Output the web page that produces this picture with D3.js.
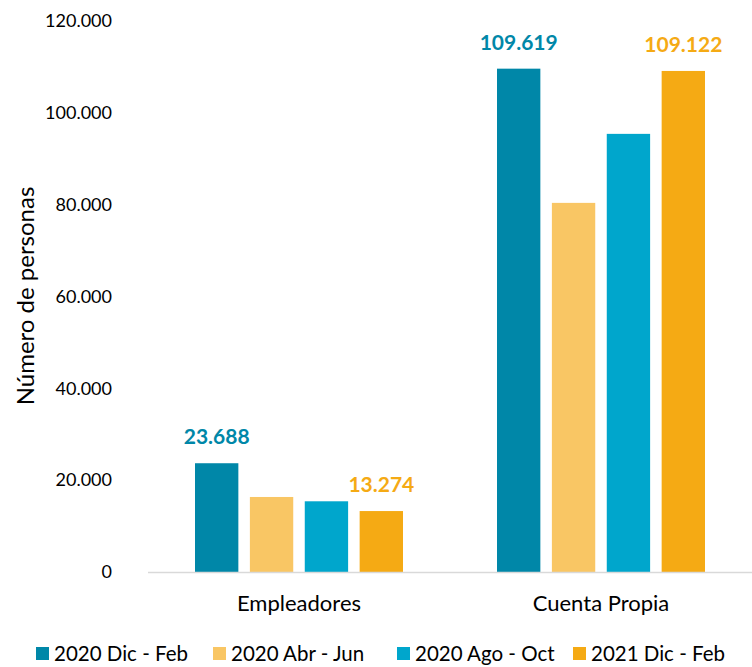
<!DOCTYPE html>
<meta charset="utf-8">
<style>
body, html { margin: 0; background: #fff; }
text { font-family: Lato, "Open Sans", sans-serif; fill: #000; }
</style>
<svg></svg>
<script src="https://d3js.org/d3.v7.min.js"></script>
<script>

var categories = ['Empleadores', 'Cuenta Propia'];
var seriesNames = ['2020 Dic - Feb', '2020 Abr - Jun', '2020 Ago - Oct', '2021 Dic - Feb'];
var colors = ['#0087a8', '#f9c664', '#00a6cc', '#f5aa14'];
var values = [
  [23688, 16340, 15400, 13274],
  [109619, 80390, 95420, 109122]
];
// which bars carry a value label
var labelled = [0, 3];
var yTicks = [0, 20000, 40000, 60000, 80000, 100000, 120000];

var W = 752, H = 667;
var margin = {top: 21, right: 0, bottom: 95, left: 148};

var svg = d3.select('svg').attr('width', W).attr('height', H);

var x0 = d3.scaleBand().domain(categories)
  .range([margin.left, W - margin.right])
  .paddingInner(0).paddingOuter(0);

var x1 = d3.scaleBand().domain(d3.range(seriesNames.length))
  .range([47, x0.bandwidth() - 47])
  .paddingInner(0.21);

var y = d3.scaleLinear().domain([0, 120000]).range([H - margin.bottom, margin.top]);

var fmt = function (v) { return d3.format(',')(v).replace(/,/g, '.'); };

// y tick labels
svg.append('g').selectAll('text')
  .data(yTicks).enter().append('text')
  .attr('x', 112)
  .attr('y', function (d) { return y(d); })
  .attr('dy', '0.35em')
  .attr('text-anchor', 'end')
  .style('font-size', '18px')
  .text(function (d) { return fmt(d); });

// y title
svg.append('text')
  .attr('transform', 'translate(34,' + 296 + ') rotate(-90)')
  .attr('text-anchor', 'middle')
  .style('font-size', '24px')
  .text('Número de personas');

// bars
var groups = svg.append('g').selectAll('g')
  .data(categories).enter().append('g')
  .attr('transform', function (d) { return 'translate(' + x0(d) + ',0)'; });

groups.selectAll('rect')
  .data(function (d, i) { return values[i]; })
  .enter().append('rect')
  .attr('x', function (d, j) { return x1(j); })
  .attr('y', function (d) { return y(d); })
  .attr('width', x1.bandwidth())
  .attr('height', function (d) { return y(0) - y(d); })
  .attr('fill', function (d, j) { return colors[j]; });

groups.selectAll('text.lbl')
  .data(function (d, i) { return values[i].map(function (v, j) { return {v: v, j: j}; })
    .filter(function (e) { return labelled.indexOf(e.j) >= 0; }); })
  .enter().append('text')
  .attr('class', 'lbl')
  .attr('x', function (d) { return x1(d.j) + x1.bandwidth() / 2; })
  .attr('y', function (d) { return y(d.v) - 19; })
  .attr('text-anchor', 'middle')
  .style('font-size', '21px')
  .style('font-weight', 'bold')
  .style('fill', function (d) { return colors[d.j]; })
  .text(function (d) { return fmt(d.v); });

// x axis line
svg.append('line')
  .attr('x1', margin.left).attr('x2', W)
  .attr('y1', y(0) + 0.5).attr('y2', y(0) + 0.5)
  .attr('stroke', '#d9d9d9').attr('stroke-width', 1.5);

// category labels
svg.append('g').selectAll('text')
  .data(categories).enter().append('text')
  .attr('x', function (d) { return x0(d) + x0.bandwidth() / 2; })
  .attr('y', 611)
  .attr('text-anchor', 'middle')
  .style('font-size', '22px')
  .text(function (d) { return d; });

// legend
var legendX = [36, 213, 397, 573];
var legend = svg.append('g').selectAll('g')
  .data(seriesNames).enter().append('g')
  .attr('transform', function (d, i) { return 'translate(' + legendX[i] + ',647)'; });

legend.append('rect')
  .attr('width', 13).attr('height', 13)
  .attr('fill', function (d, i) { return colors[i]; });

legend.append('text')
  .attr('x', 18).attr('y', 7)
  .attr('dy', '0.36em')
  .style('font-size', '20.5px')
  .text(function (d) { return d; });

</script>
